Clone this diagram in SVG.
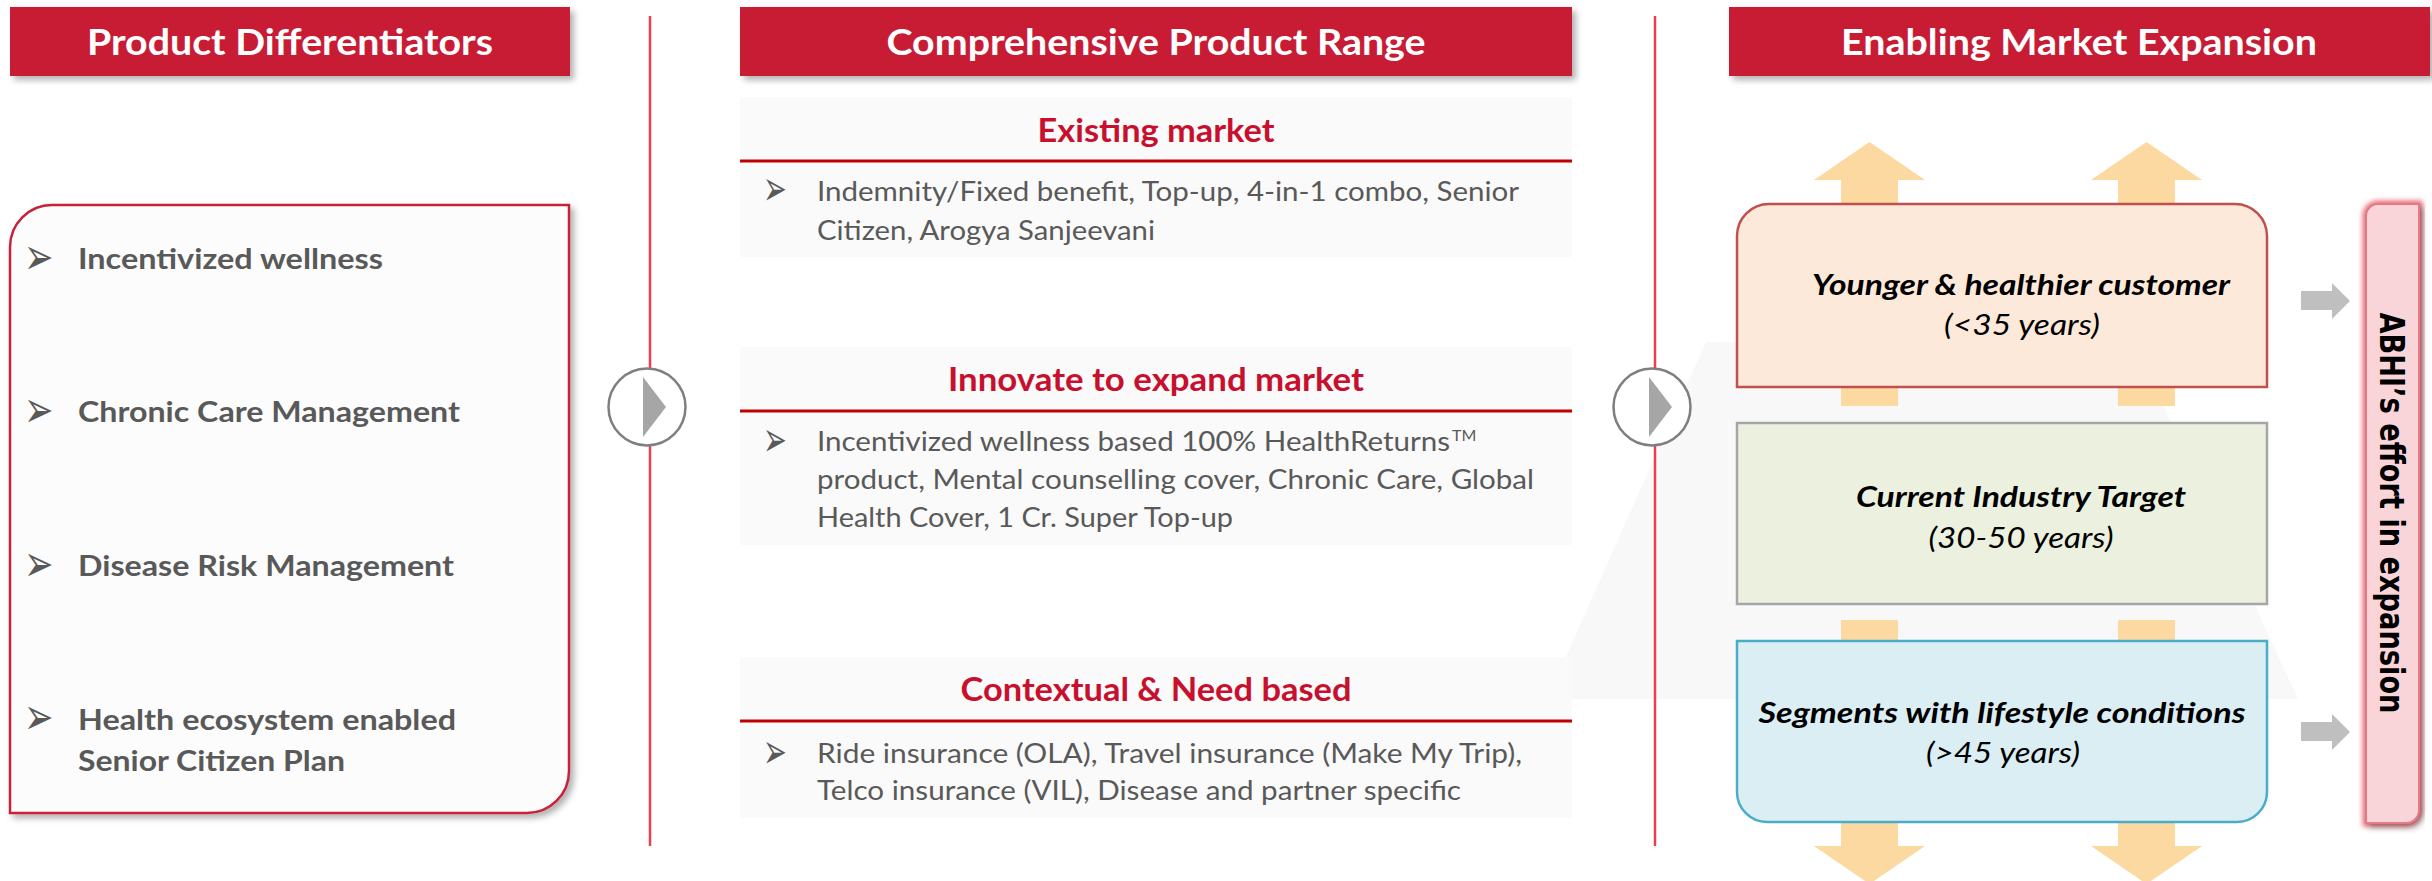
<svg xmlns="http://www.w3.org/2000/svg" width="2432" height="881" viewBox="0 0 2432 881">
<defs>
<style>
.hdr{fill:#c81f35}
.hdrt{font-family:Lato,"Open Sans","Liberation Sans",sans-serif;font-weight:700;font-size:36px;fill:#ffffff;text-anchor:middle}
.lt{font-family:Lato,"Open Sans","Liberation Sans",sans-serif;font-weight:700;font-size:29px;fill:#595959}
.bul{font-family:"DejaVu Sans",sans-serif;fill:#595959}
.sub{font-family:Lato,"Open Sans","Liberation Sans",sans-serif;font-weight:700;font-size:32px;fill:#c8102e;text-anchor:middle}
.bt{font-family:Lato,"Open Sans","Liberation Sans",sans-serif;font-weight:400;font-size:26px;fill:#595959}
.panel{fill:#fafafa}
.uline{stroke:#c00000;stroke-width:3}
.sep{stroke:#e8404f;stroke-width:2.5}
.circ{fill:#ffffff;stroke:#7f7f7f;stroke-width:2.5}
.tri{fill:#a6a6a6}
.rb{font-family:Lato,"Open Sans","Liberation Sans",sans-serif;font-weight:700;font-style:italic;font-size:28px;fill:#000000;text-anchor:middle}
.ri{font-family:Lato,"Open Sans","Liberation Sans",sans-serif;font-weight:400;font-style:italic;font-size:28px;fill:#000000;text-anchor:middle}
.oarr{fill:#fbd9a1}
.garr{fill:#bfbfbf}
</style>
<filter id="sh" x="-5%" y="-5%" width="115%" height="125%">
<feDropShadow dx="4" dy="4" stdDeviation="3" flood-color="#000000" flood-opacity="0.3"/>
</filter>
<filter id="glow" x="-40%" y="-5%" width="180%" height="115%">
<feGaussianBlur stdDeviation="2.5"/>
</filter>
</defs>
<rect width="2432" height="881" fill="#ffffff"/>
<polygon points="1706,342 2134,342 2298,699 1547,699" fill="#f8f8f8"/>

<g id="separators">
<line class="sep" x1="650" y1="16" x2="650" y2="846"/>
<line class="sep" x1="1655" y1="16" x2="1655" y2="846"/>
<circle class="circ" cx="647" cy="407" r="38.5"/>
<polygon class="tri" points="643,377 666,407 643,437"/>
<circle class="circ" cx="1652" cy="407" r="38.5"/>
<polygon class="tri" points="1649,377 1672,407 1649,437"/>
</g>

<g id="header-differentiators">
<rect class="hdr" x="10" y="7" width="560" height="69" filter="url(#sh)"/>
<text class="hdrt" x="290" y="55" textLength="406" lengthAdjust="spacingAndGlyphs">Product Differentiators</text>
</g>

<g id="header-range">
<rect class="hdr" x="740" y="7" width="832" height="69" filter="url(#sh)"/>
<text class="hdrt" x="1156" y="55" textLength="539" lengthAdjust="spacingAndGlyphs">Comprehensive Product Range</text>
</g>

<g id="header-expansion">
<rect class="hdr" x="1729" y="7" width="701" height="69" filter="url(#sh)"/>
<text class="hdrt" x="2079" y="55" textLength="476" lengthAdjust="spacingAndGlyphs">Enabling Market Expansion</text>
</g>

<g id="differentiators">
<path d="M 52 205 H 569 V 771 A 42 42 0 0 1 527 813 H 10 V 247 A 42 42 0 0 1 52 205 Z" fill="#fcfcfc" stroke="#c8203a" stroke-width="2.5" filter="url(#sh)"/>
<text class="bul" transform="translate(24,274) scale(0.69,1)" font-size="51">➢</text>
<text class="lt" x="78" y="269" textLength="305" lengthAdjust="spacingAndGlyphs">Incentivized wellness</text>
<text class="bul" transform="translate(24,426.5) scale(0.69,1)" font-size="51">➢</text>
<text class="lt" x="78" y="422" textLength="382" lengthAdjust="spacingAndGlyphs">Chronic Care Management</text>
<text class="bul" transform="translate(24,581) scale(0.69,1)" font-size="51">➢</text>
<text class="lt" x="78" y="576" textLength="376" lengthAdjust="spacingAndGlyphs">Disease Risk Management</text>
<text class="bul" transform="translate(24,734) scale(0.69,1)" font-size="51">➢</text>
<text class="lt" x="78" y="730" textLength="378" lengthAdjust="spacingAndGlyphs">Health ecosystem enabled</text>
<text class="lt" x="78" y="771" textLength="267" lengthAdjust="spacingAndGlyphs">Senior Citizen Plan</text>
</g>

<g id="existing-market">
<rect class="panel" x="740" y="97" width="832" height="160"/>
<text class="sub" x="1156" y="142" textLength="237" lengthAdjust="spacingAndGlyphs">Existing market</text>
<line class="uline" x1="740" y1="161" x2="1572" y2="161"/>
<text class="bul" transform="translate(763,205) scale(0.58,1)" font-size="49">➢</text>
<text class="bt" x="817" y="201" textLength="702" lengthAdjust="spacingAndGlyphs">Indemnity/Fixed benefit, Top-up, 4-in-1 combo, Senior</text>
<text class="bt" x="817" y="240" textLength="338" lengthAdjust="spacingAndGlyphs">Citizen, Arogya Sanjeevani</text>
</g>

<g id="innovate-market">
<rect class="panel" x="740" y="347" width="832" height="198"/>
<text class="sub" x="1156" y="391" textLength="416" lengthAdjust="spacingAndGlyphs">Innovate to expand market</text>
<line class="uline" x1="740" y1="411" x2="1572" y2="411"/>
<text class="bul" transform="translate(763,455.5) scale(0.58,1)" font-size="49">➢</text>
<text class="bt" x="817" y="451"><tspan textLength="633" lengthAdjust="spacingAndGlyphs">Incentivized wellness based 100% HealthReturns</tspan><tspan x="1452" y="441" font-size="16">TM</tspan></text>
<text class="bt" x="817" y="489" textLength="717" lengthAdjust="spacingAndGlyphs">product, Mental counselling cover, Chronic Care, Global</text>
<text class="bt" x="817" y="527" textLength="416" lengthAdjust="spacingAndGlyphs">Health Cover, 1 Cr. Super Top-up</text>
</g>

<g id="contextual">
<rect class="panel" x="740" y="657" width="832" height="161"/>
<text class="sub" x="1156" y="701" textLength="391" lengthAdjust="spacingAndGlyphs">Contextual &amp; Need based</text>
<line class="uline" x1="740" y1="721" x2="1572" y2="721"/>
<text class="bul" transform="translate(763,768) scale(0.58,1)" font-size="49">➢</text>
<text class="bt" x="817" y="763" textLength="705" lengthAdjust="spacingAndGlyphs">Ride insurance (OLA), Travel insurance (Make My Trip),</text>
<text class="bt" x="817" y="800" textLength="644" lengthAdjust="spacingAndGlyphs">Telco insurance (VIL), Disease and partner specific</text>
</g>

<g id="connectors">
<polygon class="oarr" points="1841,406 1841,180 1814,180 1869.5,142 1925,180 1898,180 1898,406"/>
<polygon class="oarr" points="2118,406 2118,180 2091,180 2146.5,142 2202,180 2175,180 2175,406"/>
<polygon class="oarr" points="1841,620 1898,620 1898,846 1925,846 1869.5,884 1814,846 1841,846"/>
<polygon class="oarr" points="2118,620 2175,620 2175,846 2202,846 2146.5,884 2091,846 2118,846"/>
<polygon class="garr" points="2301,291 2332,291 2332,283 2350,301 2332,319 2332,310 2301,310"/>
<polygon class="garr" points="2301,722 2332,722 2332,714 2350,732 2332,750 2332,741 2301,741"/>
</g>

<g id="younger">
<path d="M 1737 387 V 236 A 32 32 0 0 1 1769 204 H 2235 A 32 32 0 0 1 2267 236 V 387 Z" fill="#fde9d9" stroke="#c0504d" stroke-width="2.5"/>
<text class="rb" x="2021" y="295" textLength="418" lengthAdjust="spacingAndGlyphs">Younger &amp; healthier customer</text>
<text class="ri" x="2022" y="335" textLength="156" lengthAdjust="spacingAndGlyphs">(&lt;35 years)</text>
</g>

<g id="current">
<rect x="1737" y="423" width="530" height="181" fill="#ebf1de" stroke="#a6a6a6" stroke-width="2.5"/>
<text class="rb" x="2021" y="507" textLength="330" lengthAdjust="spacingAndGlyphs">Current Industry Target</text>
<text class="ri" x="2021" y="548" textLength="185" lengthAdjust="spacingAndGlyphs">(30-50 years)</text>
</g>

<g id="segments">
<path d="M 1737 641 H 2267 V 792 A 30 30 0 0 1 2237 822 H 1767 A 30 30 0 0 1 1737 792 Z" fill="#dbeef4" stroke="#4bacc6" stroke-width="2.5"/>
<text class="rb" x="2002" y="723" textLength="487" lengthAdjust="spacingAndGlyphs">Segments with lifestyle conditions</text>
<text class="ri" x="2003" y="763" textLength="154" lengthAdjust="spacingAndGlyphs">(&gt;45 years)</text>
</g>

<g id="abhi-effort">
<path d="M 2378 204 H 2419 V 810 A 13 13 0 0 1 2406 823 H 2366 V 216 A 12 12 0 0 1 2378 204 Z" fill="none" stroke="#e8707c" stroke-width="7" filter="url(#glow)"/>
<path d="M 2378 204 H 2419 V 810 A 13 13 0 0 1 2406 823 H 2366 V 216 A 12 12 0 0 1 2378 204 Z" fill="#f9d5da" stroke="#e57a85" stroke-width="2" filter="url(#sh)"/>
<text transform="translate(2380,513) rotate(90)" x="0" y="0" text-anchor="middle" font-family="'DejaVu Sans',Verdana,sans-serif" font-weight="700" font-size="34" fill="#000000" textLength="401" lengthAdjust="spacingAndGlyphs">ABHI’s effort in expansion</text>
</g>
</svg>
